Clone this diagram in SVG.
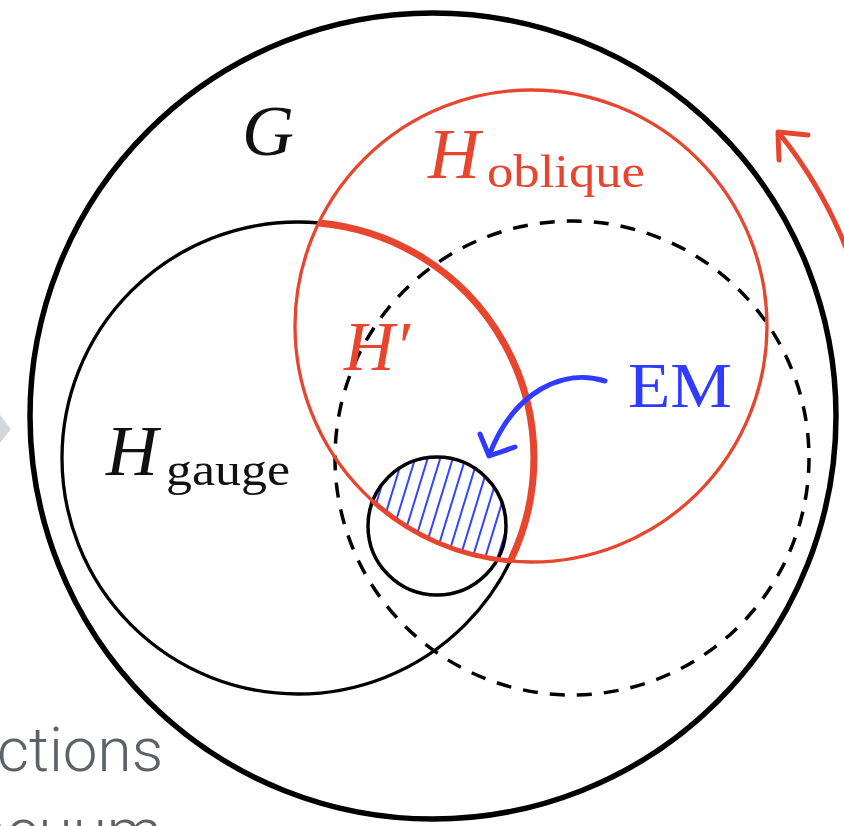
<svg xmlns="http://www.w3.org/2000/svg" width="844" height="826" viewBox="0 0 844 826">
<style>
.ser{font-family:"Liberation Serif","DejaVu Serif",serif}
.it{font-style:italic}
.red{fill:#e8452f}
.blk{fill:#111}
.blu{fill:#2f3cff}
.ring{fill:none}
.gray{font-family:Roboto,"Liberation Sans",sans-serif;font-weight:300;fill:#5d6269}
</style>
<defs>
<pattern id="hatch" patternUnits="userSpaceOnUse" width="12" height="12" patternTransform="rotate(17)">
<line x1="3" y1="-2" x2="3" y2="14" stroke="#3344ff" stroke-width="2"/>
</pattern>
<clipPath id="smallClip"><circle cx="437" cy="526" r="69"/></clipPath>
</defs>
<rect width="844" height="826" fill="#fff"/>
<polygon points="0,415 11,429 0,443" fill="#d5d8db"/>
<text class="gray" x="-3" y="771" font-size="62">ctions</text>
<text class="gray" x="-56" y="852" font-size="62">vacuum</text>

<g id="hatched">
<circle cx="531" cy="326" r="236" fill="url(#hatch)" clip-path="url(#smallClip)"/>
</g>

<g id="G">
<circle cx="433" cy="416" r="403" class="ring" stroke="#000" stroke-width="5.5"/>
<text class="ser it blk" x="242" y="155" font-size="72">G</text>
</g>

<g id="Hgauge">
<circle cx="298" cy="458" r="236" class="ring" stroke="#000" stroke-width="3.3"/>
<text class="ser it blk" x="106" y="475" font-size="72">H</text>
<text class="ser blk" x="166" y="485" font-size="46" textLength="124" lengthAdjust="spacingAndGlyphs">gauge</text>
</g>

<g id="dashed">
<circle cx="572" cy="458" r="237" class="ring" stroke="#000" stroke-width="3.5" stroke-dasharray="15 12.1"/>
</g>

<g id="small">
<circle cx="437" cy="526" r="69" class="ring" stroke="#000" stroke-width="3.5"/>
</g>

<g id="Hoblique">
<circle cx="531" cy="326" r="236" class="ring" stroke="#e8452f" stroke-width="3.3"/>
<text class="ser it red" x="428" y="178" font-size="72">H</text>
<text class="ser red" x="487" y="187" font-size="46" textLength="158" lengthAdjust="spacingAndGlyphs">oblique</text>
</g>

<g id="Hprime">
<path d="M318.7 223 A236 236 0 0 1 510.3 561" fill="none" stroke="#e8452f" stroke-width="7"/>
<path d="M372.6 501 A236 236 0 0 0 510.3 561" fill="none" stroke="#e8452f" stroke-width="5"/>
<text class="ser it red" x="344" y="370" font-size="70">H′</text>
</g>

<g id="EM">
<text class="ser blu" x="628" y="407" font-size="64" textLength="104" lengthAdjust="spacingAndGlyphs">EM</text>
</g>

<g id="connectors" fill="none" stroke-linecap="round" stroke-linejoin="round">
<path d="M605 381 C565 368 515 390 490 453" stroke="#2f3cff" stroke-width="5"/>
<path d="M480 434 L489 456 L515 447" stroke="#2f3cff" stroke-width="5"/>
<path d="M850 258 A446 446 0 0 0 779 133" stroke="#e8452f" stroke-width="5"/>
<path d="M808 135 L778 132 L779 160" stroke="#e8452f" stroke-width="5"/>
</g>
</svg>
